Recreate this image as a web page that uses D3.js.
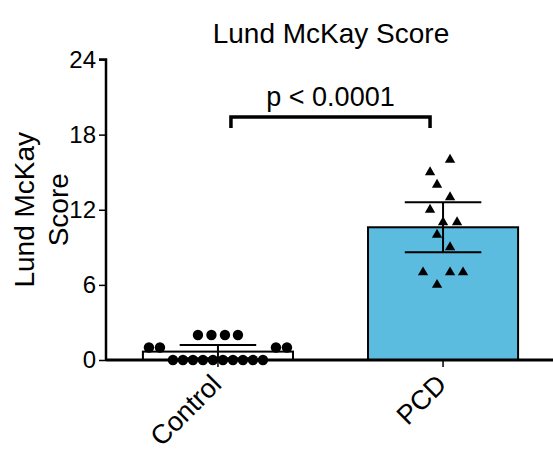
<!DOCTYPE html>
<html>
<head>
<meta charset="utf-8">
<script src="https://cdn.jsdelivr.net/npm/d3@7"></script>
<style>
  body { margin: 0; background: #fff; }
  text { font-family: "Liberation Sans", Arial, sans-serif; fill: #000; }
</style>
</head>
<body>
<div id="chart"></div>
<script>
// setting up constants
const FRAME_WIDTH = 553;
const FRAME_HEIGHT = 450;
const MARGINS = {left: 106, right: 0, top: 59.5, bottom: 90};
const AXIS_BOTTOM = FRAME_HEIGHT - MARGINS.bottom;

// data
const GROUPS = ["Control", "PCD"];
const BAR_MEANS = [0.67, 10.6];
const BAR_ERRORS = [0.53, 2.0];       // 95% CI half-width
const Y_TICKS = [0, 6, 12, 18, 24];

// individual scores and their horizontal spread (in symbol widths)
const CONTROL_SCORES = [0, 0, 0, 0, 0, 0, 0, 0, 0, 0, 1, 1, 1, 1, 2, 2, 2, 2];
const CONTROL_JITTER = [-4.5, -3.5, -2.5, -1.5, -0.5, 0.5, 1.5, 2.5, 3.5, 4.5,
                        -6.9, -5.8, 5.8, 6.9, -2, -0.65, 0.7, 2];
const PCD_SCORES = [16, 15, 14, 13, 12, 11, 11, 10, 9, 7, 7, 7, 6];
const PCD_JITTER = [0.7, -1.3, -0.6, 0.7, -1.3, 0, 1.4, -0.6, 0.7, -2, 0.7, 2, -0.6];

const TITLE = "Lund McKay Score";
const P_LABEL = "p < 0.0001";

const svg = d3.select("#chart")
  .append("svg")
  .attr("width", FRAME_WIDTH)
  .attr("height", FRAME_HEIGHT);

// scales
const xScale = d3.scaleBand()
  .domain(GROUPS)
  .range([MARGINS.left, MARGINS.left + 449])
  .paddingInner(1 / 3)
  .paddingOuter(0.164);

const yScale = d3.scaleLinear()
  .domain([0, 24])
  .range([AXIS_BOTTOM, MARGINS.top]);

const jitter = d3.scaleLinear().domain([0, 1]).range([0, 10]);
const center = (g) => xScale(g) + xScale.bandwidth() / 2;

// bars
svg.selectAll(".bar")
  .data(GROUPS)
  .enter()
  .append("rect")
  .attr("class", "bar")
  .attr("x", (d) => xScale(d))
  .attr("y", (d, i) => yScale(BAR_MEANS[i]))
  .attr("width", xScale.bandwidth())
  .attr("height", (d, i) => AXIS_BOTTOM - yScale(BAR_MEANS[i]))
  .attr("fill", (d, i) => i === 0 ? "#ffffff" : "#5bbce0")
  .attr("stroke", "#000")
  .attr("stroke-width", 2);

// error bars
const capHalf = xScale.bandwidth() * 0.255;
GROUPS.forEach((g, i) => {
  const cx = center(g);
  const lo = yScale(BAR_MEANS[i] - BAR_ERRORS[i]);
  const hi = yScale(BAR_MEANS[i] + BAR_ERRORS[i]);
  const eb = svg.append("g")
    .attr("stroke", "#000")
    .attr("stroke-width", 2);
  eb.append("line").attr("x1", cx).attr("x2", cx).attr("y1", lo).attr("y2", hi);
  eb.append("line").attr("x1", cx - capHalf).attr("x2", cx + capHalf).attr("y1", hi).attr("y2", hi);
  eb.append("line").attr("x1", cx - capHalf).attr("x2", cx + capHalf).attr("y1", lo).attr("y2", lo);
});

// control points (circles)
svg.selectAll(".ctrl")
  .data(CONTROL_SCORES)
  .enter()
  .append("circle")
  .attr("class", "ctrl")
  .attr("cx", (d, i) => center("Control") + jitter(CONTROL_JITTER[i]))
  .attr("cy", (d) => yScale(d))
  .attr("r", 5.2)
  .attr("fill", "#000");

// PCD points (triangles)
const tri = d3.symbol().type(d3.symbolTriangle).size(46);
svg.selectAll(".pcd")
  .data(PCD_SCORES)
  .enter()
  .append("path")
  .attr("class", "pcd")
  .attr("d", tri)
  .attr("transform", (d, i) => "translate(" + (center("PCD") + jitter(PCD_JITTER[i])) + "," + yScale(d) + ")")
  .attr("fill", "#000");

// y axis
const yAxis = svg.append("g")
  .attr("transform", "translate(" + MARGINS.left + ",0)")
  .call(d3.axisLeft(yScale).tickValues(Y_TICKS).tickSize(7).tickPadding(3));
yAxis.select(".domain").attr("stroke-width", 2.5).attr("d", "M-7," + yScale(24) + "H0V" + AXIS_BOTTOM);
yAxis.selectAll(".tick line").attr("stroke-width", 1.5);
yAxis.selectAll(".tick text").attr("font-size", 24);

// x axis
const xAxis = svg.append("g")
  .attr("transform", "translate(0," + AXIS_BOTTOM + ")")
  .call(d3.axisBottom(xScale).tickSize(7).tickFormat(""));
xAxis.select(".domain").attr("stroke-width", 3).attr("d", "M" + MARGINS.left + ",0H" + FRAME_WIDTH);
xAxis.selectAll(".tick line").attr("stroke-width", 1.5);

// rotated category labels
svg.selectAll(".xlabel")
  .data(GROUPS)
  .enter()
  .append("text")
  .attr("class", "xlabel")
  .attr("text-anchor", "end")
  .attr("font-size", 27)
  .attr("transform", (d) => "translate(" + (center(d) + 5) + "," + (AXIS_BOTTOM + 26) + ") rotate(-45)")
  .text((d) => d);

// y axis title
const yTitle = svg.append("text")
  .attr("text-anchor", "middle")
  .attr("font-size", 28)
  .attr("transform", "translate(34," + yScale(12) + ") rotate(-90)");
yTitle.append("tspan").attr("x", 0).attr("dy", 0).text("Lund McKay");
yTitle.append("tspan").attr("x", 0).attr("dy", 34).text("Score");

// chart title
svg.append("text")
  .attr("x", 331)
  .attr("y", 43)
  .attr("text-anchor", "middle")
  .attr("font-size", 28)
  .text(TITLE);

// significance bracket
const bx1 = center("Control") + 13;
const bx2 = center("PCD") - 13;
svg.append("path")
  .attr("d", "M" + bx1 + ",128V117H" + bx2 + "V128")
  .attr("fill", "none")
  .attr("stroke", "#000")
  .attr("stroke-width", 3.5);
svg.append("text")
  .attr("x", (bx1 + bx2) / 2)
  .attr("y", 106)
  .attr("text-anchor", "middle")
  .attr("font-size", 27)
  .text(P_LABEL);
</script>
</body>
</html>
